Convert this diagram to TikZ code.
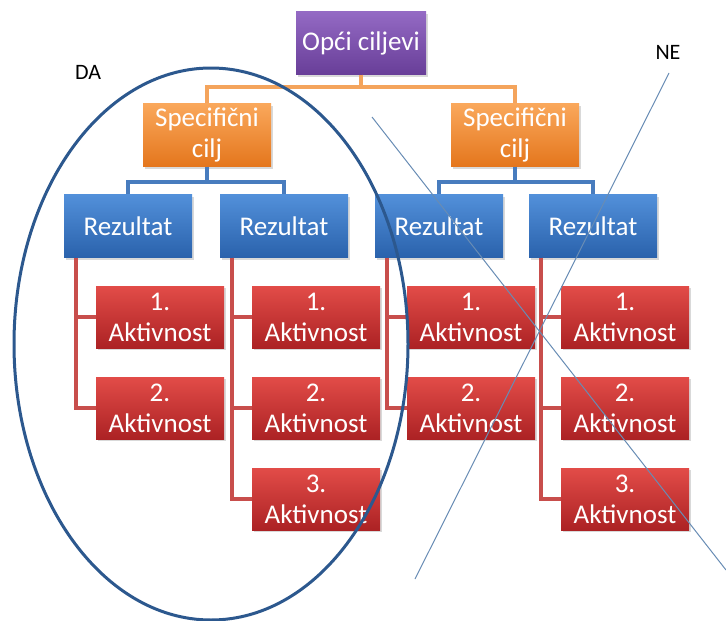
\documentclass[tikz,border=0pt]{standalone}
\usepackage{fontspec}
\setmainfont{Carlito}
\usepackage{tikz}
\usetikzlibrary{calc,positioning,shadows}
\definecolor{goaltop}{RGB}{148,106,196}
\definecolor{goalbot}{RGB}{104,62,152}
\definecolor{spectop}{RGB}{250,168,92}
\definecolor{specbot}{RGB}{228,118,28}
\definecolor{restop}{RGB}{82,144,218}
\definecolor{resbot}{RGB}{42,98,172}
\definecolor{acttop}{RGB}{226,76,72}
\definecolor{actbot}{RGB}{172,34,36}
\definecolor{goalln}{RGB}{244,164,92}
\definecolor{specln}{RGB}{72,124,190}
\definecolor{resln}{RGB}{200,78,76}
\definecolor{ovalln}{RGB}{44,88,142}
\definecolor{crossln}{RGB}{104,140,180}
\tikzset{%
	orgbox/.style   = {rectangle, minimum width=128pt, minimum height=63pt, inner sep=0pt, text=white, align=center, font=\fontsize{27}{31}\selectfont, drop shadow={opacity=0.3, shadow xshift=1.5pt, shadow yshift=-2pt}},
	goalbox/.style  = {orgbox, minimum width=130pt, top color=goaltop, bottom color=goalbot},
	specbox/.style  = {orgbox, top color=spectop, bottom color=specbot},
	resbox/.style   = {orgbox, top color=restop, bottom color=resbot},
	actbox/.style   = {orgbox, minimum height=62pt, top color=acttop, bottom color=actbot},
	goalline/.style = {goalln, line width=4pt},
	specline/.style = {specln, line width=4pt},
	resline/.style  = {resln, line width=4pt},
	tagtext/.style  = {font=\fontsize{22}{26}\selectfont, text=black},
}
\begin{document}
\begin{tikzpicture}[x=1pt,y=-1pt]
		\useasboundingbox (0,0) rectangle (726,621);
		
		\node[goalbox] (opci) at (361,43) {Opći ciljevi};
		\node[specbox] (spec1) at (207,135) {Specifični\\cilj};
		\node[specbox] (spec2) at (515,135) {Specifični\\cilj};
		
		\node[resbox] (rez1) at (128,226) {Rezultat};
		\node[resbox] (rez2) at (284,226) {Rezultat};
		\node[resbox] (rez3) at (439,226) {Rezultat};
		\node[resbox] (rez4) at (593,226) {Rezultat};
		
		\node[actbox] (akt11) at (160,317) {1.\\Aktivnost};
		\node[actbox] (akt12) at (160,408) {2.\\Aktivnost};
		\node[actbox] (akt21) at (316,317) {1.\\Aktivnost};
		\node[actbox] (akt22) at (316,408) {2.\\Aktivnost};
		\node[actbox] (akt23) at (316,499) {3.\\Aktivnost};
		\node[actbox] (akt31) at (471,317) {1.\\Aktivnost};
		\node[actbox] (akt32) at (471,408) {2.\\Aktivnost};
		\node[actbox] (akt41) at (625,317) {1.\\Aktivnost};
		\node[actbox] (akt42) at (625,408) {2.\\Aktivnost};
		\node[actbox] (akt43) at (625,499) {3.\\Aktivnost};
		
		% connectors
		\draw[goalline] (opci.south) -- ++(0,12) -| (spec1.north);
		\draw[goalline] (opci.south) -- ++(0,12) -| (spec2.north);
		\draw[specline] (spec1.south) -- ++(0,15) -| (rez1.north);
		\draw[specline] (spec1.south) -- ++(0,15) -| (rez2.north);
		\draw[specline] (spec2.south) -- ++(0,15) -| (rez3.north);
		\draw[specline] (spec2.south) -- ++(0,15) -| (rez4.north);
		
		\draw[resline] ([xshift=12pt]rez1.south west) |- (akt11.west);
		\draw[resline] ([xshift=12pt]rez1.south west) |- (akt12.west);
		\draw[resline] ([xshift=12pt]rez2.south west) |- (akt21.west);
		\draw[resline] ([xshift=12pt]rez2.south west) |- (akt22.west);
		\draw[resline] ([xshift=12pt]rez2.south west) |- (akt23.west);
		\draw[resline] ([xshift=12pt]rez3.south west) |- (akt31.west);
		\draw[resline] ([xshift=12pt]rez3.south west) |- (akt32.west);
		\draw[resline] ([xshift=12pt]rez4.south west) |- (akt41.west);
		\draw[resline] ([xshift=12pt]rez4.south west) |- (akt42.west);
		\draw[resline] ([xshift=12pt]rez4.south west) |- (akt43.west);
		
		% DA / NE
		\draw[ovalln, line width=3pt] (211,344) ellipse [x radius=197, y radius=276];
		\draw[crossln, line width=1pt] (372,117) -- (726,570);
		\draw[crossln, line width=1pt] (669,73) -- (415,579);
		\node[tagtext] (da) at (88,72) {DA};
		\node[tagtext] (ne) at (668,52) {NE};
\end{tikzpicture}
\end{document}
